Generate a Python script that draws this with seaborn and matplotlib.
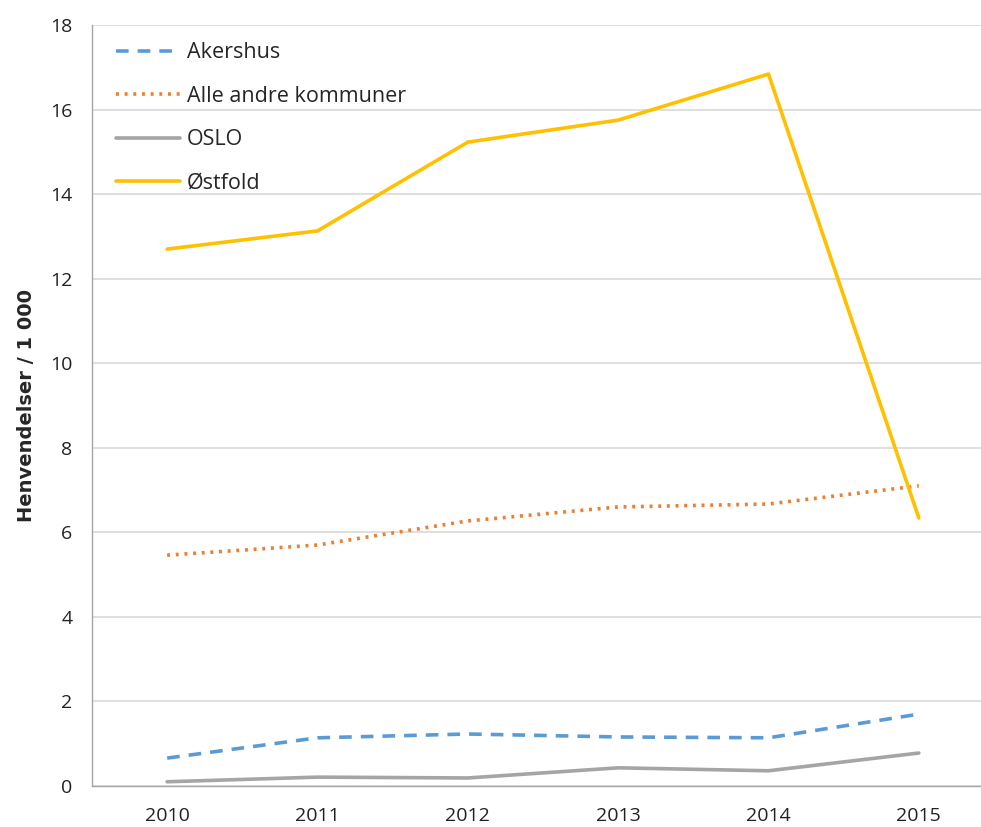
import matplotlib
matplotlib.use("Agg")
import matplotlib.pyplot as plt
import seaborn as sns
import pandas as pd

years = ["2010", "2011", "2012", "2013", "2014", "2015"]
akershus = [0.66, 1.14, 1.23, 1.16, 1.14, 1.70]
alle_andre = [5.46, 5.70, 6.27, 6.60, 6.67, 7.10]
oslo = [0.10, 0.21, 0.19, 0.43, 0.36, 0.78]
ostfold = [12.70, 13.13, 15.23, 15.75, 16.84, 6.34]

series_names = ["Akershus", "Alle andre kommuner", "OSLO", "Østfold"]
series_values = [akershus, alle_andre, oslo, ostfold]
colors = ["#5B9BD5", "#ED7D31", "#A5A5A5", "#FFC000"]
styles = [(0, (3.5, 2.5)), (0, (0.8, 1.6)), "-", "-"]

sns.set_theme(style="white")
plt.rcParams["font.family"] = ["Open Sans", "DejaVu Sans"]

rows = []
for name, vals in zip(series_names, series_values):
    for y, v in zip(years, vals):
        rows.append({"year": y, "value": v, "series": name})
df = pd.DataFrame(rows)

fig = plt.figure(figsize=(9.81, 8.27), dpi=100)
ax = fig.add_axes([92 / 981, 41 / 827, 902 / 981, 761 / 827])

for name, color, ls in zip(series_names, colors, styles):
    sub = df[df["series"] == name]
    sns.lineplot(data=sub, x="year", y="value", ax=ax, color=color,
                 linestyle=ls, linewidth=2.6, label=name, sort=False)

ax.set_xlim(-0.5, 5.5)
ax.set_ylim(0, 18)
ax.set_yticks(range(0, 19, 2))
ax.yaxis.grid(True, color="#D9D9D9", linewidth=1.2)
ax.xaxis.grid(False)
ax.set_axisbelow(True)
for s in ["top", "right"]:
    ax.spines[s].set_visible(False)
for s in ["left", "bottom"]:
    ax.spines[s].set_color("#A6A6A6")
    ax.spines[s].set_linewidth(1.0)
ax.tick_params(axis="both", length=0, labelsize=14, colors="#222222")
ax.tick_params(axis="x", pad=15)
ax.tick_params(axis="y", pad=14)
ax.set_xlabel("")
ax.set_ylabel("Henvendelser / 1 000", fontsize=14, fontweight="bold",
              family=["Liberation Sans Narrow", "DejaVu Sans"], labelpad=10)

leg = ax.legend(loc="upper left", bbox_to_anchor=(0.005, 1.003), frameon=False,
                fontsize=15.5, handlelength=3.0, labelspacing=1.05, handletextpad=0.3)

fig.savefig("out.png", dpi=100)
